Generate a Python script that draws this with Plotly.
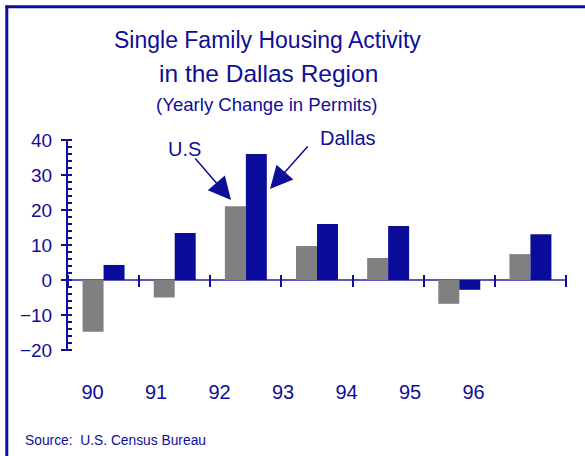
import plotly.graph_objects as go

years = ["90", "91", "92", "93", "94", "95", "96"]
us_change = [-14.8, -5.0, 21.1, 9.7, 6.3, -6.8, 7.4]
dallas_change = [4.3, 13.4, 36.0, 16.0, 15.4, -2.8, 13.1]
y_ticks = [-20, -10, 0, 10, 20, 30, 40]

W, H = 585, 456
L, R, T, B = 68, 19, 140, 106
PW, PH = W - L - R, H - T - B

def fx(p):
    return (p - L) / PW

def fy(p):
    return (H - B - p) / PH

DARK = "#0e0e98"
BAR_BLUE = "#0c0c9a"
GRAY = "#808080"
AXIS = "#5a5abd"
FONT = "Arial, Liberation Sans, sans-serif"

fig = go.Figure()
fig.add_trace(go.Bar(x=years, y=us_change, marker=dict(color=GRAY, line=dict(width=0)), name="U.S"))
fig.add_trace(go.Bar(x=years, y=dallas_change, marker=dict(color=BAR_BLUE, line=dict(width=0)), name="Dallas"))

fig.update_layout(
    width=W, height=H,
    margin=dict(l=L, r=R, t=T, b=B, pad=0),
    paper_bgcolor="white", plot_bgcolor="white",
    showlegend=False,
    barmode="group", bargap=0.41, bargroupgap=0,
    font=dict(family=FONT, color=DARK),
    xaxis=dict(type="category", domain=[0, 1], showticklabels=False, ticks="",
               showline=False, showgrid=False, zeroline=False, categoryarray=years,
               categoryorder="array", range=[-0.5, 6.5]),
    yaxis=dict(range=[-20, 40], tickvals=y_ticks, showline=True, linecolor=DARK, linewidth=2,
               ticks="", showgrid=False, zeroline=True, zerolinecolor=AXIS, zerolinewidth=2,
               tickfont=dict(size=19, color=DARK, family=FONT), ticklabelstandoff=10),
    yaxis2=dict(overlaying="y", anchor="free", position=fx(72), side="left",
                range=[-20, 40], tickvals=y_ticks, ticks="outside", ticklen=11, tickwidth=2,
                tickcolor=DARK, showticklabels=False, showline=False, showgrid=False, zeroline=False,
                minor=dict(ticks="outside", ticklen=4, tickwidth=1.5, tickcolor=DARK, dtick=2, tick0=0,
                           showgrid=False)),
    xaxis2=dict(overlaying="x", anchor="free", position=fy(274), side="bottom",
                range=[-0.5, 6.5], tick0=-0.5, dtick=1, ticks="outside", ticklen=12, tickwidth=2,
                tickcolor=DARK, showticklabels=False, showline=False, showgrid=False, zeroline=False),
    xaxis3=dict(overlaying="x", anchor="y", side="bottom",
                range=[-(92.5 - L) / 63.5, (L + PW - 92.5) / 63.5],
                tickvals=list(range(len(years))), ticktext=years, ticks="",
                showline=False, showgrid=False, zeroline=False,
                tickfont=dict(size=20, color=DARK, family=FONT), ticklabelstandoff=28),
)

# invisible helper traces so overlay axes are drawn
fig.add_trace(go.Scatter(x=[0], y=[0], xaxis="x2", yaxis="y2", mode="markers",
                         marker=dict(opacity=0), hoverinfo="skip", showlegend=False))
fig.add_trace(go.Scatter(x=[0], y=[0], xaxis="x3", yaxis="y", mode="markers",
                         marker=dict(opacity=0), hoverinfo="skip", showlegend=False))

ann = []
ann.append(dict(text="Single Family Housing Activity", x=fx(267), y=fy(40), xref="paper", yref="paper",
                showarrow=False, xanchor="center", yanchor="middle", font=dict(size=23, color=DARK)))
ann.append(dict(text="in the Dallas Region", x=fx(268), y=fy(73), xref="paper", yref="paper",
                showarrow=False, xanchor="center", yanchor="middle", font=dict(size=24.5, color=DARK)))
ann.append(dict(text="(Yearly Change in Permits)", x=fx(267), y=fy(105), xref="paper", yref="paper",
                showarrow=False, xanchor="center", yanchor="middle", font=dict(size=18.6, color=DARK)))
ann.append(dict(text="U.S", x=fx(184), y=fy(149), xref="paper", yref="paper",
                showarrow=False, xanchor="center", yanchor="middle", font=dict(size=20, color=DARK)))
ann.append(dict(text="Dallas", x=fx(348), y=fy(138), xref="paper", yref="paper",
                showarrow=False, xanchor="center", yanchor="middle", font=dict(size=20, color=DARK)))
ann.append(dict(text="", x=fx(231), y=fy(200), xref="paper", yref="paper",
                showarrow=True, ax=-37, ay=-43, arrowhead=2, arrowsize=3, arrowwidth=1.5,
                arrowcolor=DARK))
ann.append(dict(text="", x=fx(270), y=fy(189), xref="paper", yref="paper",
                showarrow=True, ax=39, ay=-44, arrowhead=2, arrowsize=3, arrowwidth=1.5,
                arrowcolor=DARK))
ann.append(dict(text="Source:  U.S. Census Bureau", x=fx(23), y=fy(440), xref="paper", yref="paper",
                showarrow=False, xanchor="left", yanchor="middle", font=dict(size=13.8, color=DARK)))
fig.update_layout(annotations=ann)

fig.update_layout(shapes=[
    dict(type="line", xref="paper", yref="paper", x0=fx(5.5), x1=fx(590), y0=fy(6.8), y1=fy(6.8),
         line=dict(color=DARK, width=3)),
    dict(type="line", xref="paper", yref="paper", x0=fx(6.8), x1=fx(6.8), y0=fy(5.5), y1=fy(460),
         line=dict(color=DARK, width=3)),
])

fig.write_html("out.html", config={"displayModeBar": False},
               post_script="document.body.style.margin='0';document.body.style.overflow='hidden';")
